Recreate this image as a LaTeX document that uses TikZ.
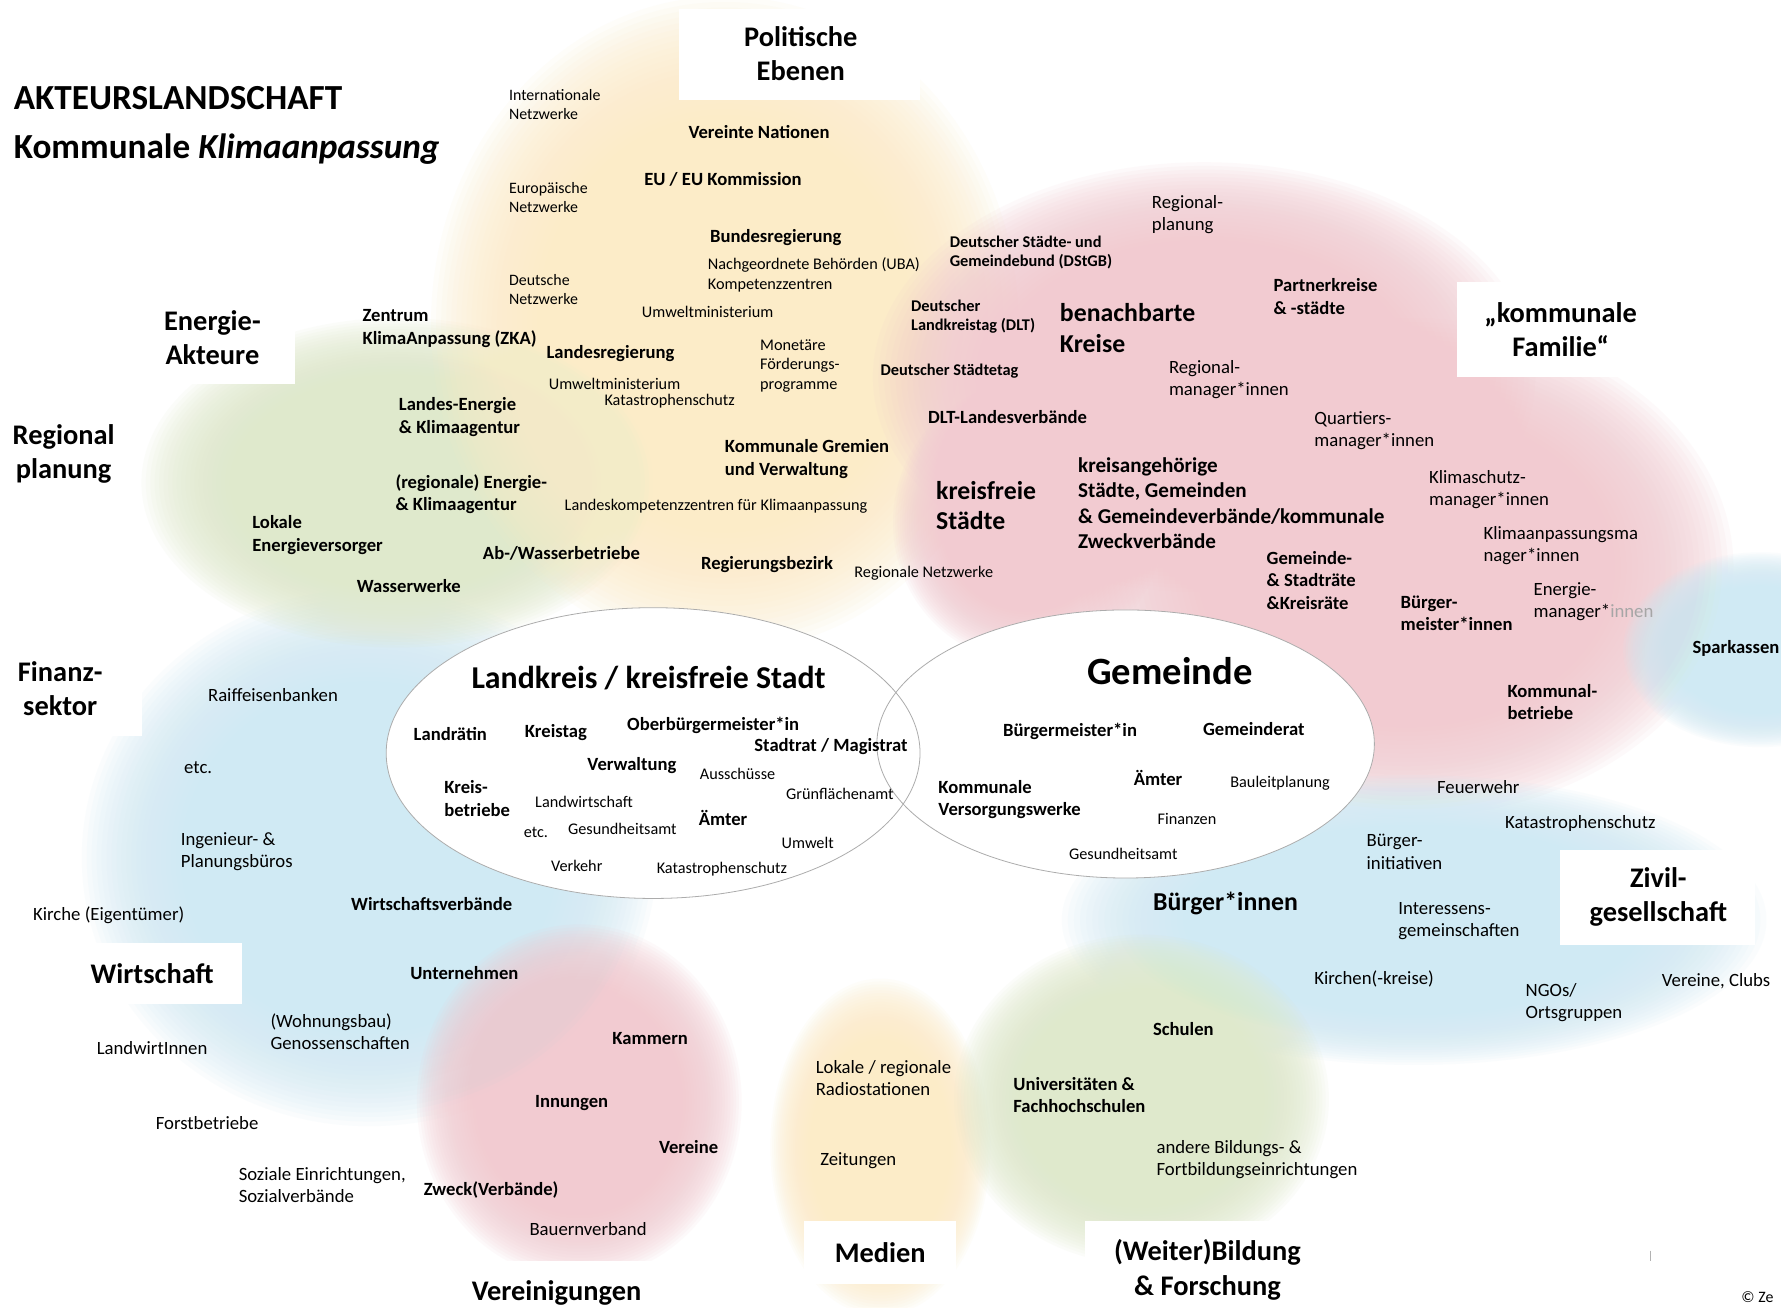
\documentclass[tikz,border=0pt]{standalone}
\usepackage{fontspec}
\setmainfont{Carlito}
\definecolor{cyel}{RGB}{252,236,200}
\definecolor{cpink}{RGB}{242,203,209}
\definecolor{cgreen}{RGB}{223,233,204}
\definecolor{cblue}{RGB}{208,234,244}
\newcommand\softblob[5]{%
  \foreach \kk in {0,...,29}{%
    \fill[#1, fill opacity=0.1] (#2,#3) ellipse ({#4*(1.1-0.019*\kk)} and {#5*(1.1-0.019*\kk)});
  }}
\begin{document}
\begin{tikzpicture}[x=1pt,y=-1pt,
  txt/.style={inner sep=0pt, anchor=west, align=left},
  reg/.style={txt, font=\fontsize{14}{17}\selectfont},
  rego/.style={txt, font=\fontsize{16.5}{19.5}\selectfont},
  regs/.style={txt, font=\fontsize{14.3}{17}\selectfont},
  bld/.style={txt, font=\fontsize{16.4}{20}\selectfont\bfseries},
  blds/.style={txt, font=\fontsize{14.4}{17}\selectfont\bfseries},
  mid/.style={txt, font=\fontsize{18.6}{22.5}\selectfont\bfseries},
  big/.style={txt, font=\fontsize{22.7}{27}\selectfont\bfseries},
  cat/.style={inner sep=0pt, align=center, font=\fontsize{25}{30}\selectfont\bfseries},
  catbox/.style={fill=white, draw=none},
  ring/.style={draw=gray!65, line width=0.7pt},
  titl/.style={txt, font=\fontsize{31}{36}\selectfont\bfseries}
]
\useasboundingbox (0,0) rectangle (1568,1151);
\fill[white] (0,0) rectangle (1568,1151);

% ---- coloured areas ----
\softblob{cblue}{325}{755}{230}{215}
\softblob{cgreen}{350}{425}{205}{132}
\softblob{cyel}{638}{285}{235}{262}
\softblob{cpink}{1060}{332}{265}{172}
\softblob{cpink}{1238}{500}{262}{200}
\softblob{cpink}{905}{460}{108}{112}
\softblob{cblue}{1245}{810}{282}{116}
\softblob{cblue}{1550}{572}{110}{78}
\softblob{cpink}{510}{970}{130}{142}
\softblob{cyel}{775}{1010}{88}{135}
\softblob{cgreen}{1005}{968}{150}{132}

% ---- white label boxes ----
\fill[catbox] (598,8) rectangle (810,88);
\fill[catbox] (130,265) rectangle (260,338);
\fill[catbox] (0,565) rectangle (125,648);
\fill[catbox] (60,830) rectangle (213,884);
\fill[catbox] (380,1110) rectangle (615,1151);
\fill[catbox] (708,1075) rectangle (842,1130);
\fill[catbox] (955,1075) rectangle (1175,1151);
\fill[catbox] (1373,748) rectangle (1545,832);
\fill[catbox] (1283,248) rectangle (1466,332);

% ---- central ellipses ----
\fill[white] (575,663) ellipse (235 and 128);
\fill[white] (991,655) ellipse (219 and 118);
\draw[ring] (575,663) ellipse (235 and 128);
\draw[ring] (991,655) ellipse (219 and 118);

% ---- title ----
\node[titl] (t1) at (12,86) {AKTEURSLANDSCHAFT};
\node[titl] (t2) at (12,131) {Kommunale \textit{Klimaanpassung}};

% ---- category labels ----
\node[cat] (cPol) at (705,47) {Politische\\Ebenen};
\node[cat] (cEne) at (187,297) {Energie-\\Akteure};
\node[cat] (cReg) at (56,400) {Regional\\planung};
\node[cat] (cFin) at (53,606) {Finanz-\\sektor};
\node[cat] (cWir) at (134,857) {Wirtschaft};
\node[cat] (cVer) at (490,1138) {Vereinigungen};
\node[cat] (cMed) at (775,1103) {Medien};
\node[cat] (cBil) at (1063,1118) {(Weiter)Bildung\\\& Forschung};
\node[cat] (cZiv) at (1460,790) {Zivil-\\gesellschaft};
\node[cat] (cKom) at (1374,290) {„kommunale\\Familie“};

% ---- politische Ebenen ----
\node[reg] (a1) at (448,92) {Internationale\\Netzwerke};
\node[reg] (a2) at (448,174) {Europäische\\Netzwerke};
\node[reg] (a3) at (448,255) {Deutsche\\Netzwerke};
\node[bld] (a4) at (606,116) {Vereinte Nationen};
\node[bld] (a5) at (567,158) {EU / EU Kommission};
\node[bld] (a6) at (625,209) {Bundesregierung};
\node[regs] (a7) at (623,242) {Nachgeordnete Behörden (UBA)\\Kompetenzzentren};
\node[regs] (a8) at (565,275) {Umweltministerium};
\node[bld] (a9) at (319,289) {Zentrum\\KlimaAnpassung (ZKA)};
\node[bld] (a10) at (481,311) {Landesregierung};
\node[regs] (a11) at (669,322) {Monetäre\\Förderungs-\\programme};
\node[regs] (a12) at (483,338) {Umweltministerium};
\node[regs] (a13) at (532,353) {Katastrophenschutz};
\node[bld] (a14) at (638,404) {Kommunale Gremien\\und Verwaltung};
\node[regs] (a15) at (497,446) {Landeskompetenzzentren für Klimaanpassung};
\node[bld] (a16) at (617,497) {Regierungsbezirk};
\node[regs] (a17) at (752,505) {Regionale Netzwerke};

% ---- Energie ----
\node[bld] (e1) at (351,367) {Landes-Energie\\\& Klimaagentur};
\node[bld] (e2) at (348,435) {(regionale) Energie-\\\& Klimaagentur};
\node[bld] (e3) at (222,471) {Lokale\\Energieversorger};
\node[bld] (e4) at (425,487) {Ab-/Wasserbetriebe};
\node[bld] (e5) at (314,516) {Wasserwerke};

% ---- kommunale Familie ----
\node[blds] (k1) at (836,222) {Deutscher Städte- und\\Gemeindebund (DStGB)};
\node[blds] (k2) at (802,279) {Deutscher\\Landkreistag (DLT)};
\node[blds] (k3) at (775,327) {Deutscher Städtetag};
\node[bld] (k4) at (817,367) {DLT-Landesverbände};
\node[rego] (k5) at (1014,189) {Regional-\\planung};
\node[big] (k6) at (933,289) {benachbarte\\Kreise};
\node[bld] (k7) at (1121,261) {Partnerkreise\\\& -städte};
\node[rego] (k8) at (1029,334) {Regional-\\manager*innen};
\node[rego] (k9) at (1157,379) {Quartiers-\\manager*innen};
\node[big] (k10) at (824,445) {kreisfreie\\Städte};
\node[mid] (k11) at (949,443) {kreisangehörige\\Städte, Gemeinden\\\& Gemeindeverbände/kommunale\\Zweckverbände};
\node[rego] (k12) at (1258,431) {Klimaschutz-\\manager*innen};
\node[rego] (k13) at (1306,480) {Klimaanpassungsma\\nager*innen};
\node[bld] (k14) at (1115,511) {Gemeinde-\\\& Stadträte\\\&Kreisräte};
\node[bld] (k15) at (1233,540) {Bürger-\\meister*innen};
\node[rego] (k16) at (1350,530) {Energie-\\manager*\textcolor{gray!70}{innen}};
\node[bld] (k17) at (1490,571) {Sparkassen};
\node[bld] (k18) at (1327,618) {Kommunal-\\betriebe};

% ---- Landkreis ellipse ----
\node[inner sep=0pt, font=\fontsize{28}{32}\selectfont\bfseries] (L0) at (571,597) {Landkreis / kreisfreie Stadt};
\node[bld] (L1) at (364,646) {Landrätin};
\node[bld] (L2) at (462,645) {Kreistag};
\node[bld] (L3) at (552,639) {Oberbürgermeister*in};
\node[bld] (L4) at (664,657) {Stadtrat / Magistrat};
\node[bld] (L5) at (517,674) {Verwaltung};
\node[regs] (L6) at (616,681) {Ausschüsse};
\node[bld] (L7) at (391,703) {Kreis-\\betriebe};
\node[regs] (L8) at (471,706) {Landwirtschaft};
\node[regs] (L9) at (692,699) {Grünflächenamt};
\node[bld] (L10) at (615,720) {Ämter};
\node[regs] (L11) at (461,733) {etc.};
\node[regs] (L12) at (500,730) {Gesundheitsamt};
\node[regs] (L13) at (688,742) {Umwelt};
\node[regs] (L14) at (485,762) {Verkehr};
\node[regs] (L15) at (578,765) {Katastrophenschutz};

% ---- Gemeinde ellipse ----
\node[inner sep=0pt, font=\fontsize{34}{40}\selectfont\bfseries] (G0) at (1030,591) {Gemeinde};
\node[bld] (G1) at (883,644) {Bürgermeister*in};
\node[bld] (G2) at (1059,642) {Gemeinderat};
\node[bld] (G3) at (998,685) {Ämter};
\node[regs] (G4) at (1083,690) {Bauleitplanung};
\node[bld] (G5) at (826,704) {Kommunale\\Versorgungswerke};
\node[regs] (G6) at (1019,721) {Finanzen};
\node[regs] (G7) at (941,752) {Gesundheitsamt};

% ---- Finanzen / Wirtschaft ----
\node[rego] (f1) at (183,612) {Raiffeisenbanken};
\node[rego] (f2) at (162,676) {etc.};
\node[rego] (f3) at (159,750) {Ingenieur- \&\\Planungsbüros};
\node[rego] (f4) at (29,806) {Kirche (Eigentümer)};
\node[bld] (f5) at (309,796) {Wirtschaftsverbände};
\node[bld] (f6) at (361,857) {Unternehmen};
\node[rego] (f7) at (238,908) {(Wohnungsbau)\\Genossenschaften};
\node[rego] (f8) at (85,923) {LandwirtInnen};
\node[rego] (f9) at (137,989) {Forstbetriebe};
\node[rego] (f10) at (210,1043) {Soziale Einrichtungen,\\Sozialverbände};

% ---- Vereinigungen ----
\node[bld] (v1) at (539,914) {Kammern};
\node[bld] (v2) at (471,971) {Innungen};
\node[bld] (v3) at (580,1010) {Vereine};
\node[bld] (v4) at (373,1048) {Zweck(Verbände)};
\node[rego] (v5) at (466,1082) {Bauernverband};

% ---- Medien / Bildung ----
\node[rego] (m1) at (718,949) {Lokale / regionale\\Radiostationen};
\node[rego] (m2) at (722,1022) {Zeitungen};
\node[bld] (b1) at (1015,906) {Schulen};
\node[bld] (b2) at (892,964) {Universitäten \&\\Fachhochschulen};
\node[rego] (b3) at (1018,1021) {andere Bildungs- \&\\Fortbildungseinrichtungen};

% ---- Zivilgesellschaft ----
\node[big] (z0) at (1015,795) {Bürger*innen};
\node[rego] (z1) at (1265,693) {Feuerwehr};
\node[rego] (z2) at (1325,725) {Katastrophenschutz};
\node[rego] (z3) at (1203,750) {Bürger-\\initiativen};
\node[rego] (z4) at (1231,811) {Interessens-\\gemeinschaften};
\node[rego] (z5) at (1157,862) {Kirchen(-kreise)};
\node[rego] (z6) at (1343,883) {NGOs/\\Ortsgruppen};
\node[rego] (z7) at (1463,864) {Vereine, Clubs};

% ---- footer ----
\draw[gray!60, line width=0.8pt] (1453,1101) -- (1453,1110);
\node[reg] (cr) at (1533,1142) {© Ze};
\end{tikzpicture}
\end{document}
